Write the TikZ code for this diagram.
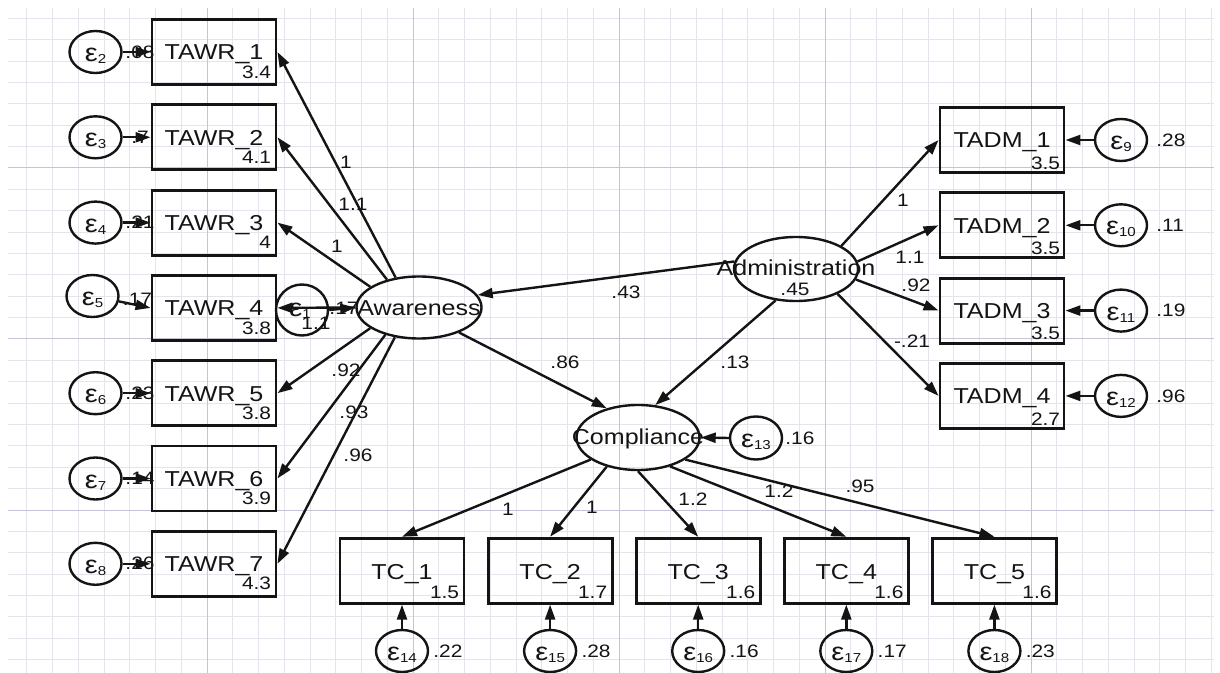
\documentclass[tikz,border=0pt]{standalone}
\usepackage{fontspec}
\setmainfont[FakeStretch=1.16]{Liberation Sans}
\usetikzlibrary{arrows.meta,calc,shapes.geometric}

\definecolor{ink}{HTML}{141414}
\definecolor{gridminor}{HTML}{E4E4EC}
\definecolor{gridmajor}{HTML}{C4C4D8}

% error term symbol with its index
\newcommand{\epsl}[1]{{\fontsize{12.5}{12.5}\selectfont ε}\raisebox{-1pt}{\fontsize{6.5}{6.5}\selectfont #1}}

\tikzset{
  obs/.style={rectangle, draw=ink, line width=1.45pt, minimum width=62pt, minimum height=32.5pt, inner sep=0pt},
  lat/.style={ellipse, draw=ink, line width=1.2pt, inner sep=0pt},
  err/.style={ellipse, draw=ink, line width=1.2pt, inner sep=0pt, minimum width=26pt, minimum height=21pt},
  link/.style={draw=ink, line width=1.2pt, -{Triangle[length=7.5pt,width=5pt]}},
  vname/.style={font=\fontsize{10.8}{10.8}\selectfont, text=ink, inner sep=0pt, anchor=base},
  coef/.style={font=\fontsize{9}{9}\selectfont, text=ink, inner sep=0pt},
  eps/.style={text=ink, inner sep=0pt, anchor=base},
}

\begin{document}
\begin{tikzpicture}[x=0.5pt,y=-0.5pt]
\useasboundingbox (0,0) rectangle (1220,673);
\fill[white] (0,0) rectangle (1220,673);

% background grid
\begin{scope}
  \clip (8,8) rectangle (1214,673);
  \foreach \k in {-23,...,23}
    \draw[gridminor,line width=0.5pt] ({619+25.75*\k},8) -- ({619+25.75*\k},673);
  \foreach \k in {-7,...,23}
    \draw[gridminor,line width=0.5pt] (8,{168+21.375*\k}) -- (1214,{168+21.375*\k});
  \foreach \k in {-2,...,2}
    \draw[gridmajor,line width=0.5pt] ({619+206*\k},8) -- ({619+206*\k},673);
  \foreach \k in {0,1,2}
    \draw[gridmajor,line width=0.5pt] (8,{168+171*\k}) -- (1214,{168+171*\k});
\end{scope}

% latent variables
\node[lat, minimum width=62.5pt, minimum height=31pt] (aw)   at (419,307.5) {};
\node[lat, minimum width=62pt,   minimum height=32pt] (adm)  at (796,269) {};
\node[lat, minimum width=61.5pt, minimum height=32.5pt] (comp) at (638,437.5) {};
\node[vname] (awn)   at ($(aw)+(0,8)$) {Awareness};
\node[vname] (admn)  at ($(adm)+(0,7)$) {Administration};
\node[coef]  (admv)  at ($(adm)+(-1,20)$) {.45};
\node[vname] (compn) at ($(comp)+(0,7)$) {Compliance};

% awareness indicators
\foreach \i/\y/\m in {1/52/3.4, 2/137.3/4.1, 3/222.6/4, 4/307.9/3.8, 5/393.2/3.8, 6/478.5/3.9, 7/563.8/4.3}{
  \node[obs] (tawr\i) at (214,\y) {};
  \node[vname] (tawr\i n) at ($(tawr\i)+(0,8)$) {TAWR\_\i};
  \node[coef, anchor=east] (tawr\i m) at ($(tawr\i.south east)+(-6,-14)$) {\m};
}

% administration indicators
\foreach \i/\y in {1/140, 2/225.3, 3/310.6, 4/395.9}{
  \node[obs] (tadm\i) at (1002,\y) {};
}
\foreach \i/\m in {1/3.5, 2/3.5, 3/3.5, 4/2.7}{
  \node[vname] (tadm\i n) at ($(tadm\i)+(0,8)$) {TADM\_\i};
  \node[coef, anchor=east] (tadm\i m) at ($(tadm\i.south east)+(-5,-11)$) {\m};
}

% compliance indicators
\foreach \i/\x/\m in {1/402/1.5, 2/550.1/1.7, 3/698.2/1.6, 4/846.3/1.6, 5/994.4/1.6}{
  \node[obs] (tc\i) at (\x,570.7) {};
  \node[vname] (tc\i n) at ($(tc\i)+(0,8.5)$) {TC\_\i};
  \node[coef, anchor=east] (tc\i m) at ($(tc\i.south east)+(-6,-12)$) {\m};
}

% error terms on the left
\foreach \j/\r/\x/\y in {2/1/95.5/52, 3/2/95.5/137.3, 4/3/95.5/222.6, 5/4/92.5/296, 6/5/95.5/393.2, 7/6/95.5/478.5, 8/7/95.5/563.8}{
  \node[err] (e\j) at (\x,\y) {};
  \node[eps] (e\j n) at ($(e\j)+(0,9.5)$) {\epsl{\j}};
  \draw[link] (e\j) -- (tawr\r.west);
}
\node[coef] (e2v) at (140,52) {.08};
\node[coef] (e3v) at (140,137.3) {.7};
\node[coef] (e4v) at (140,222.6) {.21};
\node[coef] (e5v) at (137.5,299) {.17};
\node[coef] (e6v) at (140,393.2) {.23};
\node[coef] (e7v) at (140,478.5) {.14};
\node[coef] (e8v) at (140,563.8) {.26};

% error terms on the right
\foreach \j/\r/\v in {9/1/.28, 10/2/.11, 11/3/.19, 12/4/.96}{
  \node[err] (e\j) at (1121,{140+85.3*(\r-1)}) {};
  \node[eps] (e\j n) at ($(e\j)+(0,9.5)$) {\epsl{\j}};
  \node[coef, anchor=west] (e\j v) at ($(e\j)+(35,0)$) {\v};
  \draw[link] (e\j) -- (tadm\r.east);
}

% error terms below
\foreach \j/\r/\v in {14/1/.22, 15/2/.28, 16/3/.16, 17/4/.17, 18/5/.23}{
  \node[err] (e\j) at ($(tc\r)+(0,80.3)$) {};
  \node[eps] (e\j n) at ($(e\j)+(0,9.5)$) {\epsl{\j}};
  \node[coef, anchor=west] (e\j v) at ($(e\j)+(31,0)$) {\v};
  \draw[link] (e\j) -- (tc\r.south);
}

% structural error terms
\node[err, minimum width=26pt, minimum height=25.5pt] (e1) at (302,310) {};
\node[eps] (e1n) at ($(e1)+(-2,7)$) {\epsl{1}};
\node[err, minimum height=21.5pt] (e13) at (756,438) {};
\node[eps] (e13n) at ($(e13)+(0,9.5)$) {\epsl{13}};
\node[coef, anchor=west] (e13v) at (785,438) {.16};

% loadings of Awareness
\draw[link] (aw.128) -- (tawr1.east);
\draw[link] (aw.139) -- (tawr2.east);
\draw[link] (aw.157) -- (tawr3.east);
\draw[link] (aw.180) -- (tawr4.east);
\draw[link] (aw.203) -- (tawr5.east);
\draw[link] (aw.219) -- (tawr6.east);
\draw[link] (aw.231) -- (tawr7.east);
\draw[link] (e1.0) -- (aw.180);
\node[coef] (l1) at (346,162) {1};
\node[coef] (l2) at (353,204) {1.1};
\node[coef] (l3) at (337,246) {1};
\node[coef] (l4) at (316,323) {1.1};
\node[coef] (l5) at (346,370) {.92};
\node[coef] (l6) at (354,412) {.93};
\node[coef] (l7) at (358,455) {.96};
\node[coef] (e1v) at (344,308) {.17};

% loadings of Administration
\draw[link] (adm.27.6) -- (tadm1.west);
\draw[link] (adm.7.6) -- (tadm2.west);
\draw[link] (adm.-10.5) -- (tadm3.west);
\draw[link] (adm.-31) -- (tadm4.west);
\node[coef] (a1) at (903,200) {1};
\node[coef] (a2) at (910,257) {1.1};
\node[coef] (a3) at (916,285.5) {.92};
\node[coef] (a4) at (912,341) {-.21};

% structural paths
\draw[link] (adm.173.5) -- (aw.12);
\draw[link] (aw.-32) -- (comp.137);
\draw[link] (adm.-123) -- (comp.62);
\draw[link] (e13.180) -- (comp.0);
\node[coef] (p1) at (626,292) {.43};
\node[coef] (p2) at (565,362) {.86};
\node[coef] (p3) at (735,362) {.13};

% loadings of Compliance
\draw[link] (comp.205) -- (tc1.north);
\draw[link] (comp.223) -- (tc2.north);
\draw[link] (comp.-90) -- (tc3.north);
\draw[link] (comp.-42) -- (tc4.north);
\draw[link] (comp.-25) -- (tc5.north);
\node[coef] (c1) at (508,509) {1};
\node[coef] (c2) at (592,507.5) {1};
\node[coef] (c3) at (693,499) {1.2};
\node[coef] (c4) at (779,491.5) {1.2};
\node[coef] (c5) at (860,486.5) {.95};
\end{tikzpicture}
\end{document}
